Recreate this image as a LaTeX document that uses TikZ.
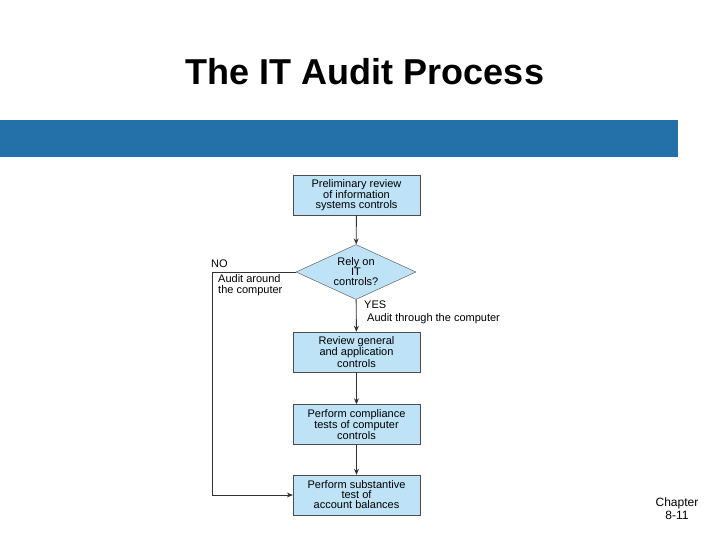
\documentclass[tikz,border=0pt]{standalone}
\usepackage{fontspec}
\setmainfont{Liberation Sans}
\usetikzlibrary{shapes.geometric,arrows.meta}
\definecolor{bar}{RGB}{36,112,168}
\definecolor{boxb}{RGB}{190,226,246}
\begin{document}
\begin{tikzpicture}[x=1pt,y=-1pt,
 box/.style={draw=black!70,fill=boxb,minimum width=127pt,minimum height=40pt,inner sep=1pt,align=center,font=\fontsize{11}{10}\selectfont},
 arr/.style={draw=black!80,line width=0.9pt,-{Stealth[length=6pt,width=5pt]}},
 lbl/.style={font=\fontsize{11}{11}\selectfont,inner sep=0pt}]
\useasboundingbox (0,0) rectangle (720,540);
\fill[white] (0,0) rectangle (720,540);
\fill[bar] (0,120) rectangle (678,157);
\node[font=\bfseries\fontsize{36}{36}\selectfont] (title) at (365,72) {The IT Audit Process};
\node[box] (b1) at (356.5,195) {Preliminary review\\of information\\systems controls};
\node[draw=black!70,fill=boxb,diamond,minimum width=120pt,minimum height=55pt,inner sep=0pt,aspect=2.2,align=center,font=\fontsize{11}{10}\selectfont] (d) at (356,272) {Rely on\\IT\\controls?};
\node[box] (b2) at (356.5,352) {Review general\\and application\\controls};
\node[box] (b3) at (356.5,424.5) {Perform compliance\\tests of computer\\controls};
\node[box] (b4) at (356.5,495) {Perform substantive\\test of\\account balances};
\coordinate (c1) at (212,272);
\coordinate (c2) at (212,495);
\draw[arr] (b1) -- (d);
\draw[arr] (d) -- (b2);
\draw[arr] (b2) -- (b3);
\draw[arr] (b3) -- (b4);
\draw[arr] (d.west) -- (c1) -- (c2) -- (b4.west);
\node[lbl,anchor=west] (no) at (211,264) {NO};
\node[lbl,anchor=north west,align=left] (around) at (218,274) {Audit around\\the computer};
\node[lbl,anchor=west] (yes) at (364,305) {YES};
\node[lbl,anchor=west] (through) at (367,319) {Audit through the computer};
\node[font=\fontsize{12}{13}\selectfont,align=center] (ch) at (677,509) {Chapter\\8-11};
\end{tikzpicture}
\end{document}
